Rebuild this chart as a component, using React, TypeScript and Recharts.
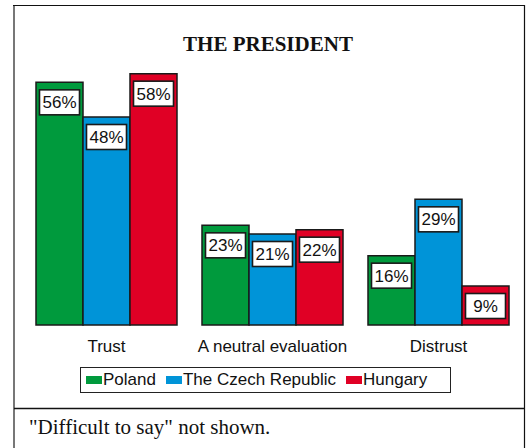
import React from 'react';
import { BarChart, Bar, XAxis, YAxis, Legend, LabelList } from 'recharts';

const categories = ['Trust', 'A neutral evaluation', 'Distrust'];
const poland = [56, 23, 16];
const czech = [48, 21, 29];
const hungary = [58, 22, 9];

const seriesNames = ['Poland', 'The Czech Republic', 'Hungary'];
const seriesKeys = ['poland', 'czech', 'hungary'];
const colors = ['#009a3d', '#0094d8', '#e00025'];

const data = categories.map((c, i) => ({
  name: c,
  poland: poland[i],
  czech: czech[i],
  hungary: hungary[i],
}));

const SANS = '"Liberation Sans", Arial, sans-serif';
const SERIF = '"Liberation Serif", "Times New Roman", serif';

const renderLabel = (props: any) => {
  const { x, y, width, value } = props;
  const bw = 40;
  const bh = 25;
  const cx = Number(x) + Number(width) / 2;
  const top = Number(y) + 7.5;
  return (
    <g>
      <rect x={cx - bw / 2} y={top} width={bw} height={bh} fill="#fff" stroke="#1a1a1a" strokeWidth={1.6} />
      <text
        x={cx}
        y={top + bh / 2}
        dy="0.36em"
        textAnchor="middle"
        fontSize={17}
        fontFamily={SANS}
        fill="#111"
      >
        {value}%
      </text>
    </g>
  );
};

const renderLegend = () => (
  <div
    style={{
      boxSizing: 'border-box',
      width: 371,
      height: 26,
      border: '1.5px solid #222',
      display: 'flex',
      alignItems: 'center',
      paddingLeft: 5,
      fontFamily: SANS,
      fontSize: 17,
      color: '#111',
      background: '#fff',
      whiteSpace: 'nowrap',
    }}
  >
    {seriesNames.map((n, i) => (
      <div key={n} style={{ display: 'flex', alignItems: 'center', marginRight: i < 2 ? 10 : 0 }}>
        <div style={{ width: 16, height: 8, background: colors[i], marginRight: 1 }} />
        <span>{n}</span>
      </div>
    ))}
  </div>
);

export default function App() {
  return (
    <div style={{ position: 'absolute', left: 0, top: 0, width: 528, height: 448, background: '#fff' }}>
      <svg width={528} height={448} style={{ position: 'absolute', left: 0, top: 0 }}>
        <line x1={14} y1={5} x2={14} y2={448} stroke="#777" strokeWidth={2} />
        <line x1={13} y1={5.5} x2={525} y2={5.5} stroke="#111" strokeWidth={1.2} />
        <line x1={524.5} y1={5} x2={524.5} y2={448} stroke="#111" strokeWidth={1.2} />
        <line x1={14} y1={408.5} x2={525} y2={408.5} stroke="#111" strokeWidth={1.3} />
        <text x={268} y={51} textAnchor="middle" fontWeight="bold" fontSize={21} fontFamily={SERIF} fill="#111">
          THE PRESIDENT
        </text>
        <text x={29} y={433.5} fontSize={21} fontFamily={SERIF} fill="#111">
          "Difficult to say" not shown.
        </text>
      </svg>
      <div style={{ position: 'absolute', left: 0, top: 0 }}>
        <BarChart
          width={528}
          height={448}
          data={data}
          margin={{ top: 65, right: 6.5, bottom: 93, left: 23.5 }}
          barCategoryGap={12.5}
          barGap={0}
        >
          <XAxis
            dataKey="name"
            axisLine={false}
            tickLine={false}
            tickMargin={8.5}
            height={30}
            interval={0}
            tick={{ fontSize: 17, fontFamily: SANS, fill: '#111' }}
          />
          <YAxis hide domain={[0, 60]} />
          <Legend
            layout="vertical"
            verticalAlign="middle"
            align="center"
            wrapperStyle={{ left: 80, top: 366.5, width: 372, height: 27 }}
            content={renderLegend}
          />
          {seriesKeys.map((k, i) => (
            <Bar
              key={k}
              dataKey={k}
              name={seriesNames[i]}
              fill={colors[i]}
              stroke="#1a1a1a"
              strokeWidth={1.5}
              isAnimationActive={false}
            >
              <LabelList dataKey={k} content={renderLabel} />
            </Bar>
          ))}
        </BarChart>
      </div>
    </div>
  );
}
